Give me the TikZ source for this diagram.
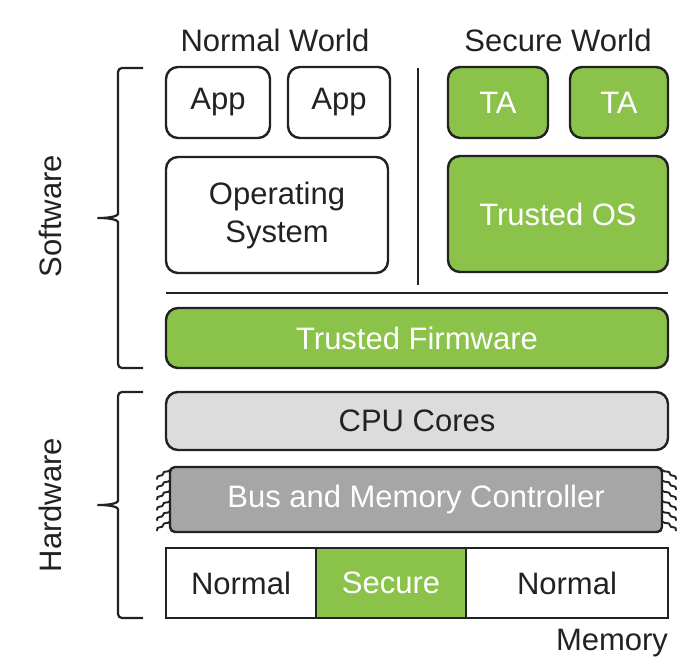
\documentclass[tikz,border=0pt]{standalone}
\usepackage{fontspec}
\setmainfont{Liberation Sans}
\definecolor{tzgreen}{HTML}{8BC34A}
\definecolor{tzink}{HTML}{222222}
\definecolor{tzlight}{HTML}{DCDCDC}
\definecolor{tzgray}{HTML}{A6A6A6}
\begin{document}
\begin{tikzpicture}[x=1pt,y=-1pt,
  every node/.style={font=\fontsize{31}{35}\selectfont, text=tzink},
  box/.style={draw=tzink, line width=2.4pt, rounded corners=12pt, fill=white, inner sep=0pt},
  gbox/.style={box, fill=tzgreen, text=white},
  sqbox/.style={draw=tzink, line width=2.4pt, inner sep=0pt},
  divider/.style={draw=tzink, line width=2pt},
  bracket/.style={draw=tzink, line width=2.2pt, rounded corners=4pt},
  squig/.style={draw=tzink, line width=1.9pt, line cap=round}]
\useasboundingbox (0,0) rectangle (691,666);
% titles
\node (nw) at (275,40) {Normal World};
\node (sw) at (558,40) {Secure World};
% normal world
\node[box, minimum width=104pt, minimum height=71pt] (app1) at (218,102.5) {App};
\node[box, minimum width=102pt, minimum height=71pt] (app2) at (339,102.5) {App};
\node[box, minimum width=222pt, minimum height=116pt, align=center] (os) at (277,215) {Operating\\[3pt]System};
% secure world
\node[gbox, minimum width=100pt, minimum height=71pt] (ta1) at (498,102.5) {TA};
\node[gbox, minimum width=98pt, minimum height=71pt] (ta2) at (619,102.5) {TA};
\node[gbox, minimum width=220pt, minimum height=116pt] (tos) at (558,214) {Trusted OS};
% dividers
\coordinate (vtop) at (418,68);
\coordinate (vbot) at (418,285);
\draw[divider] (vtop) -- (vbot);
\coordinate (hl) at (166,293);
\coordinate (hr) at (668,293);
\draw[divider] (hl) -- (hr);
% firmware
\node[gbox, minimum width=502pt, minimum height=60pt] (fw) at (417,338) {Trusted Firmware};
% hardware
\node[box, fill=tzlight, minimum width=502pt, minimum height=58pt] (cpu) at (417,421) {CPU Cores};
\node[box, rounded corners=5pt, fill=tzgray, text=white, minimum width=492pt, minimum height=65pt] (bus) at (416,499.5) {Bus and Memory Controller};
% squiggles
\foreach \i in {0,...,5}{
  \pgfmathsetmacro{\yy}{473+\i*10.3}
  \draw[squig] (157,\yy+6) .. controls (156,\yy+1) and (163,\yy+4) .. (163,\yy+1) .. controls (163,\yy-3) and (168,\yy) .. (170,\yy-3);
  \draw[squig] (662,\yy-3) .. controls (665,\yy) and (670,\yy-3) .. (670,\yy+1) .. controls (670,\yy+4) and (677,\yy+1) .. (676,\yy+6);
}
% memory
\node[sqbox, fill=white, minimum width=150pt, minimum height=70pt] (m1) at (241,583) {Normal};
\node[sqbox, fill=tzgreen, text=white, minimum width=150pt, minimum height=70pt] (m2) at (391,583) {Secure};
\node[sqbox, fill=white, minimum width=202pt, minimum height=70pt] (m3) at (567,583) {Normal};
\node (mem) at (612,643) {Memory};
% brackets
\draw[bracket] (143,68) -- (118,68) -- (118,210)
  .. controls (118,216) and (110,218) .. (95,218)
  .. controls (110,218) and (118,220) .. (118,226)
  -- (118,368) -- (143,368);
\draw[bracket] (143,392) -- (118,392) -- (118,497)
  .. controls (118,503) and (110,505) .. (95,505)
  .. controls (110,505) and (118,507) .. (118,513)
  -- (118,618) -- (143,618);
\node[rotate=90] (swl) at (50,216) {Software};
\node[rotate=90] (hwl) at (50,505) {Hardware};
\end{tikzpicture}
\end{document}
